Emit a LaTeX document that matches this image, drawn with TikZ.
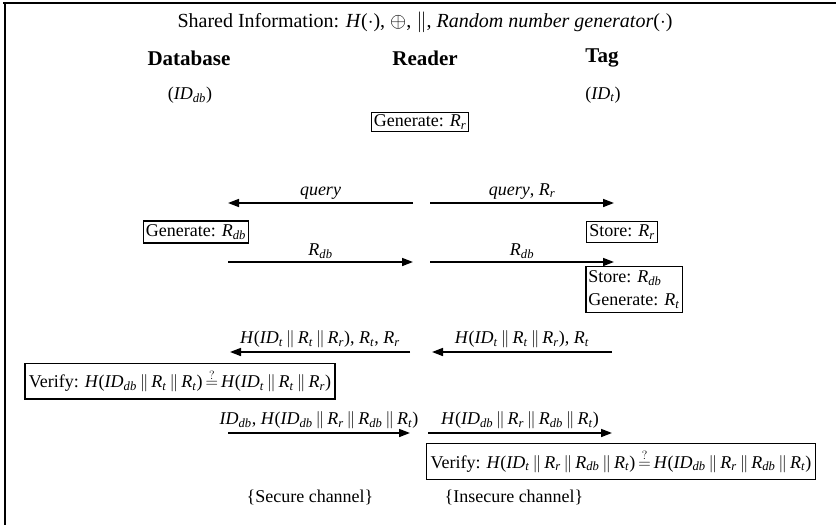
\documentclass[tikz,border=0pt]{standalone}
\usepackage{fontspec}
\setmainfont{Liberation Serif}
\usetikzlibrary{arrows.meta}
\newcommand\Sb[2]{\textit{#1}\textsubscript{\textit{#2}}}
\newcommand\pp{\,$\|$\,}
\newcommand\eqq{\,$\stackrel{?}{=}$\,}
\begin{document}
\begin{tikzpicture}[x=1pt,y=-1pt,
  lbl/.style={font=\fontsize{18}{20}\selectfont, inner sep=1pt},
  box/.style={draw, line width=1.2pt, font=\fontsize{18}{20}\selectfont, inner sep=2.5pt},
  verbox/.style={box, inner xsep=4pt, inner ysep=7pt},
  msg/.style={line width=1.6pt, -{Triangle[length=11pt,width=8pt]}},
  hdr/.style={font=\fontsize{21}{24}\selectfont\bfseries, inner sep=1pt}]
\useasboundingbox (0,0) rectangle (836,525);
\draw[line width=1.5pt] (3,3) -- (836,3);
\draw[line width=2pt] (5,3) -- (5,525);

\node[lbl, font=\fontsize{20}{22}\selectfont] (title) at (425,22) {Shared Information: \textit{H}($\cdot$), $\oplus$, $\|$, \textit{Random number generator}($\cdot$)};
\node[hdr] (db) at (189,58) {Database};
\node[hdr] (rd) at (425,58) {Reader};
\node[hdr] (tg) at (602,58) {Tag};
\node[lbl] (iddb) at (190,95) {(\Sb{ID}{db})};
\node[lbl] (idt) at (603,95) {(\Sb{ID}{t})};

\node[box] (genr) at (420,122) {Generate: \Sb{R}{r}};

% row 1
\coordinate (r1a) at (413,203); \coordinate (r1b) at (228,203);
\coordinate (r1c) at (430,203); \coordinate (r1d) at (614,203);
\draw[msg] (r1a) -- (r1b) node[lbl, midway, above=2pt] (q1) {\textit{query}};
\draw[msg] (r1c) -- (r1d) node[lbl, midway, above=2pt] (q2) {\textit{query}, \Sb{R}{r}};

\node[box, inner ysep=3.5pt] (gendb) at (196,232) {Generate: \Sb{R}{db}};
\node[box, inner ysep=3.5pt] (str) at (622,232) {Store: \Sb{R}{r}};

% row 2
\coordinate (r2a) at (228,262); \coordinate (r2b) at (413,262);
\coordinate (r2c) at (430,262); \coordinate (r2d) at (614,262);
\draw[msg] (r2a) -- (r2b) node[lbl, midway, above=2pt] (m2a) {\Sb{R}{db}};
\draw[msg] (r2c) -- (r2d) node[lbl, midway, above=2pt] (m2b) {\Sb{R}{db}};

\node[box, align=left, inner ysep=4.5pt] (strdb) at (634,289.5) {Store: \Sb{R}{db}\\[3pt]Generate: \Sb{R}{t}};

% row 3
\coordinate (r3a) at (410,352); \coordinate (r3b) at (230,352);
\coordinate (r3c) at (612,352); \coordinate (r3d) at (432,352);
\draw[msg] (r3a) -- (r3b) node[lbl, midway, above=2pt] (m3a) {\textit{H}(\Sb{ID}{t}\pp\Sb{R}{t}\pp\Sb{R}{r}), \Sb{R}{t}, \Sb{R}{r}};
\draw[msg] (r3c) -- (r3d) node[lbl, midway, above=2pt] (m3b) {\textit{H}(\Sb{ID}{t}\pp\Sb{R}{t}\pp\Sb{R}{r}), \Sb{R}{t}};

\node[verbox] (ver1) at (180,381) {Verify: \textit{H}(\Sb{ID}{db}\pp\Sb{R}{t}\pp\Sb{R}{t})\eqq\textit{H}(\Sb{ID}{t}\pp\Sb{R}{t}\pp\Sb{R}{r})};

% row 4
\coordinate (r4a) at (228,433); \coordinate (r4b) at (410,433);
\coordinate (r4c) at (428,433); \coordinate (r4d) at (612,433);
\draw[msg] (r4a) -- (r4b) node[lbl, midway, above=2pt] (m4a) {\Sb{ID}{db}, \textit{H}(\Sb{ID}{db}\pp\Sb{R}{r}\pp\Sb{R}{db}\pp\Sb{R}{t})};
\draw[msg] (r4c) -- (r4d) node[lbl, midway, above=2pt] (m4b) {\textit{H}(\Sb{ID}{db}\pp\Sb{R}{r}\pp\Sb{R}{db}\pp\Sb{R}{t})};

\node[verbox] (ver2) at (621,461.5) {Verify: \textit{H}(\Sb{ID}{t}\pp\Sb{R}{r}\pp\Sb{R}{db}\pp\Sb{R}{t})\eqq\textit{H}(\Sb{ID}{db}\pp\Sb{R}{r}\pp\Sb{R}{db}\pp\Sb{R}{t})};

\node[lbl] (sec) at (310,497) {\{Secure channel\}};
\node[lbl] (insec) at (514,497) {\{Insecure channel\}};
\end{tikzpicture}
\end{document}
